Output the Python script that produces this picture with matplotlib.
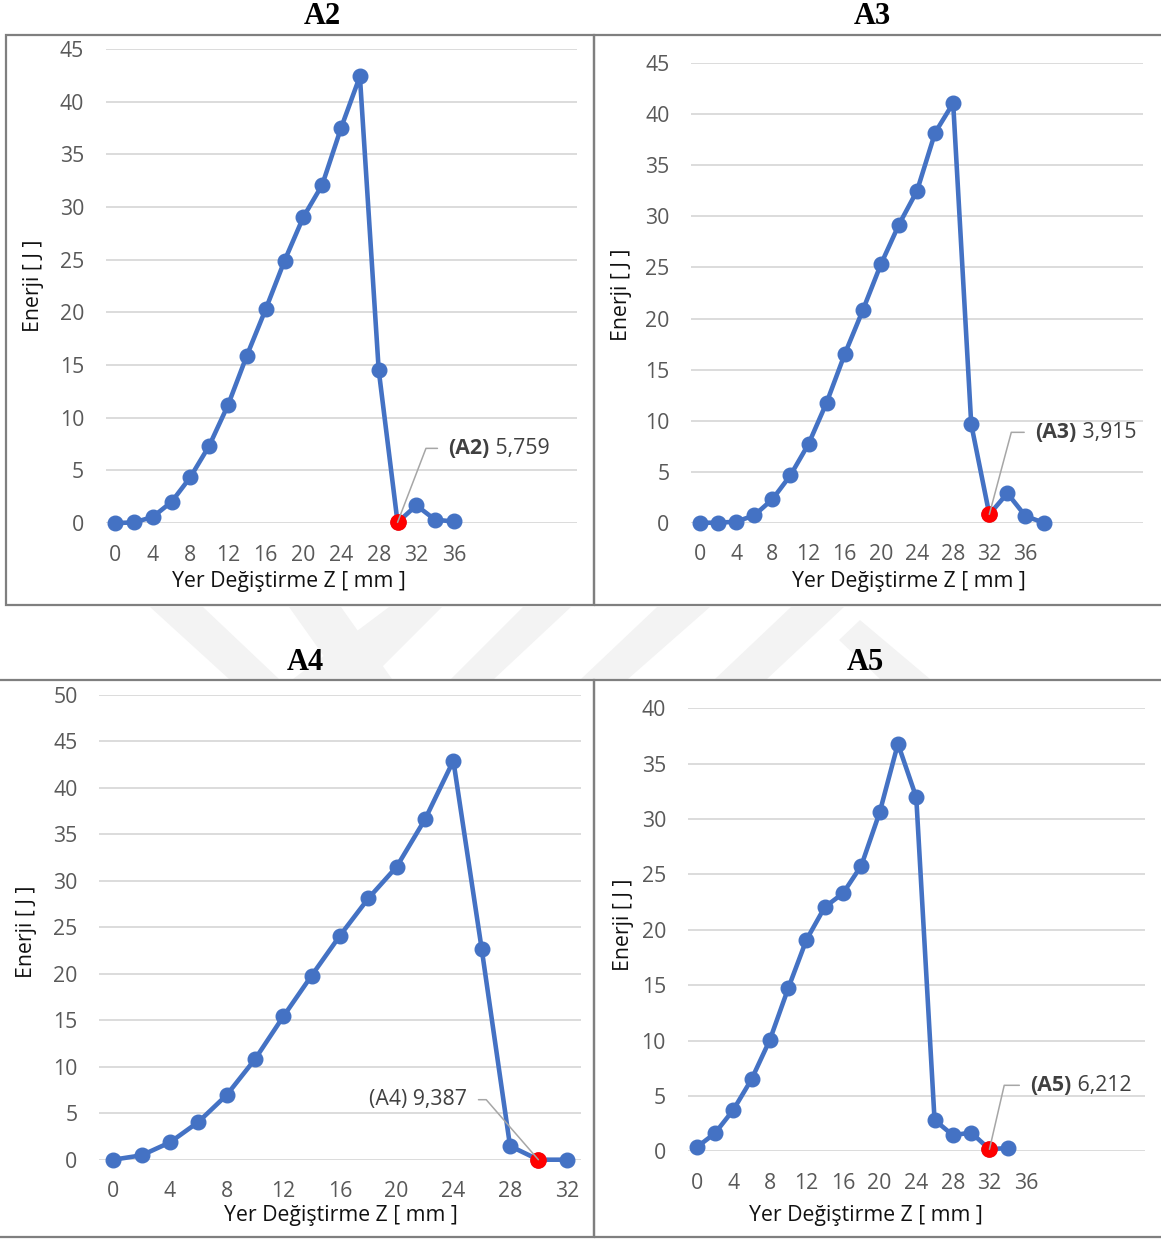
import matplotlib
matplotlib.use("Agg")
import matplotlib.pyplot as plt
from matplotlib.patches import Rectangle, Polygon
import numpy as np

W, H = 1161, 1239
DPI = 100

# ---------------- data ----------------
x_a2 = [0, 2, 4, 6, 8, 10, 12, 14, 16, 18, 20, 22, 24, 26, 28, 30, 32, 34, 36]
e_a2 = [0.0, 0.05, 0.57, 2.0, 4.35, 7.33, 11.2, 15.9, 20.3, 24.9, 29.05, 32.1, 37.5, 42.4, 14.5, 0.06, 1.67, 0.3, 0.15]

x_a3 = [0, 2, 4, 6, 8, 10, 12, 14, 16, 18, 20, 22, 24, 26, 28, 30, 32, 34, 36, 38]
e_a3 = [0.0, 0.0, 0.1, 0.72, 2.29, 4.64, 7.71, 11.76, 16.5, 20.8, 25.3, 29.2, 32.5, 38.2, 41.1, 9.64, 0.82, 2.88, 0.65, 0.0]

x_a4 = [0, 2, 4, 6, 8, 10, 12, 14, 16, 18, 20, 22, 24, 26, 28, 30, 32]
e_a4 = [0.0, 0.47, 1.86, 4.05, 6.95, 10.8, 15.4, 19.8, 24.1, 28.1, 31.5, 36.6, 42.9, 22.65, 1.47, 0.0, 0.0]

x_a5 = [0, 2, 4, 6, 8, 10, 12, 14, 16, 18, 20, 22, 24, 26, 28, 30, 32, 34]
e_a5 = [0.36, 1.63, 3.73, 6.5, 10.06, 14.7, 19.1, 22.05, 23.3, 25.8, 30.6, 36.8, 31.96, 2.83, 1.45, 1.69, 0.18, 0.3]

titles = ["A2", "A3", "A4", "A5"]
red_index = [15, 16, 15, 16]          # highlighted point per panel
ann_tag = ["(A2)", "(A3)", "(A4)", "(A5)"]
ann_val = ["5,759", "3,915", "9,387", "6,212"]
ann_bold = [True, True, False, True]
x_ticks_max = [36, 36, 32, 36]
y_max = [45, 45, 50, 40]
x_lim = [(-1, 49), (-1, 49), (-1, 33), (-1, 49)]

xlabel = "Yer Değiştirme Z [ mm ]"
ylabel = "Enerji [ J ]"

# ---------------- style ----------------
BLUE = "#4472C4"
RED = "#FF0000"
GRID = "#D9D9D9"
TICK = "#595959"
BORDER = "#7F7F7F"
LEADER = "#A6A6A6"
FONT = ["Open Sans", "DejaVu Sans"]
FS = 15.3

plt.rcParams["font.family"] = FONT

fig = plt.figure(figsize=(W / DPI, H / DPI), dpi=DPI)
fig.patch.set_facecolor("white")

def frac_rect(l, r, t, b):
    return [l / W, 1 - b / H, (r - l) / W, (b - t) / H]

# faint watermark bands in the gap between rows
wm = "#F3F3F3"
bands = [
    [(150, 607), (203, 607), (279, 679), (229, 679)],
    [(289, 607), (341, 607), (392, 679), (340, 679)],
    [(389, 607), (442, 607), (370, 679), (293, 679)],
    [(523, 607), (571, 607), (494, 679), (451, 679)],
    [(657, 607), (710, 607), (628, 679), (581, 679)],
    [(791, 607), (844, 607), (767, 679), (715, 679)],
    [(839, 640), (860, 620), (930, 679), (880, 679)],
]
for bnd in bands:
    pts = [(px / W, 1 - py / H) for px, py in bnd]
    fig.add_artist(Polygon(pts, closed=True, transform=fig.transFigure,
                           facecolor=wm, edgecolor="none", zorder=0))

# panel frames (left, right, top, bottom) in pixels
frames = [(6, 594, 35, 605), (594, 1170, 35, 605), (-10, 594, 680, 1237), (594, 1170, 680, 1237)]
for (l, r, t, b) in frames:
    fig.add_artist(Rectangle((l / W, 1 - b / H), (r - l) / W, (b - t) / H,
                             transform=fig.transFigure, facecolor="none",
                             edgecolor=BORDER, linewidth=1.6, zorder=1))

# axes rectangles in pixels
ax_px = [(105.6, 576.5, 49, 523), (691, 1143, 63.3, 522.7),
         (99.1, 580.9, 694.7, 1159.7), (687.5, 1145, 708.3, 1151.3)]
title_px = [(322, 16), (872, 16), (305, 662), (865, 662)]
xlabel_px = [(289, 582), (909, 582), (341, 1216), (866, 1216)]
ylabel_px = [(34, 286), (622, 295), (26, 932), (623, 925)]
# annotation text offset (pixels) relative to red point, and leader angle
ann_off = [(51, 74), (46, 82), (-71, 60), (41, 64)]
ann_angle = [69, 75, 131, 77]

xs = [x_a2, x_a3, x_a4, x_a5]
es = [e_a2, e_a3, e_a4, e_a5]

for i in range(4):
    l, r, t, b = ax_px[i]
    ax = fig.add_axes(frac_rect(l, r, t, b))
    ax.set_facecolor("none")
    ax.plot(xs[i], es[i], color=BLUE, lw=3.3, marker="o", ms=10.5,
            mfc=BLUE, mec=BLUE, clip_on=False, zorder=3, solid_joinstyle="round")
    k = red_index[i]
    ax.plot([xs[i][k]], [es[i][k]], "o", color=RED, ms=11, clip_on=False, zorder=4)

    ax.set_xlim(*x_lim[i])
    ax.set_ylim(0, y_max[i])
    ax.set_xticks(np.arange(0, x_ticks_max[i] + 1, 4))
    ax.set_yticks(np.arange(0, y_max[i] + 1, 5))
    for s in ax.spines.values():
        s.set_visible(False)
    ax.grid(axis="y", color=GRID, lw=1.3, zorder=0)
    ax.set_axisbelow(True)
    ax.tick_params(axis="both", length=0, colors=TICK, labelsize=FS)
    ax.tick_params(axis="y", pad=15.5)
    ax.tick_params(axis="x", pad=15.5)

    # axis labels
    axw, axh = r - l, b - t
    ax.set_xlabel(xlabel, fontsize=FS, color="#111111")
    ax.xaxis.set_label_coords((xlabel_px[i][0] - l) / axw, (b - xlabel_px[i][1]) / axh)
    ax.xaxis.label.set_va("center")
    ax.set_ylabel(ylabel, fontsize=FS, color="#111111")
    ax.yaxis.set_label_coords((ylabel_px[i][0] - l) / axw, (b - ylabel_px[i][1]) / axh)
    ax.yaxis.label.set_va("center")

    # annotation
    dx, dy = ann_off[i]
    pt = (xs[i][k], es[i][k])
    if ann_bold[i]:
        t1 = ax.annotate(ann_tag[i], xy=pt, xytext=(dx, dy),
                         textcoords="offset pixels", ha="left", va="center",
                         fontsize=FS, fontweight="bold", color="#404040", zorder=5)
        ax.annotate(" " + ann_val[i], xy=(1, 0.5), xycoords=t1, ha="left", va="center",
                    fontsize=FS, color="#404040", zorder=5)
        rel = (0, 0.5)
    else:
        t1 = ax.annotate(ann_tag[i] + " " + ann_val[i], xy=pt, xytext=(dx, dy),
                         textcoords="offset pixels", ha="right", va="center",
                         fontsize=FS, color="#404040", zorder=5)
        rel = (1, 0.5)
    ax.annotate("", xy=pt, xytext=rel, textcoords=t1,
                arrowprops=dict(arrowstyle="-", color=LEADER, lw=1.1,
                                shrinkA=8, shrinkB=0,
                                connectionstyle="angle,angleA=0,angleB=%d,rad=0" % ann_angle[i]),
                zorder=5)

    # title
    tx, ty = title_px[i]
    fig.text(tx / W, 1 - ty / H, titles[i], ha="center", va="center",
             fontsize=22, fontweight="bold", family=["Liberation Serif", "DejaVu Serif"])

fig.savefig("out.png", dpi=DPI, facecolor="white")
